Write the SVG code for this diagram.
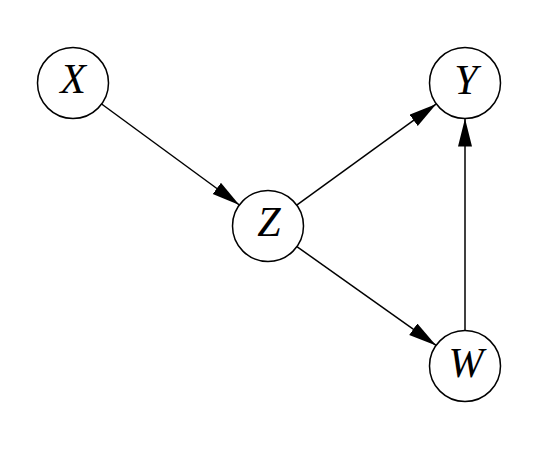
<svg xmlns="http://www.w3.org/2000/svg" width="548" height="458" viewBox="0 0 548 458">
<style>
.node circle{fill:#fff;stroke:#000;stroke-width:1.5}
.node text{font-family:"Liberation Serif","DejaVu Serif",serif;font-style:italic;font-size:42px;text-anchor:middle;fill:#000}
.edges line{stroke:#000;stroke-width:1.5;marker-end:url(#arr)}
</style>
<defs>
<marker id="arr" markerUnits="userSpaceOnUse" markerWidth="30" markerHeight="16" refX="28" refY="7" orient="auto">
<path d="M0,0 L28,7 L0,14 z" fill="#000"/>
</marker>
</defs>
<rect width="548" height="458" fill="#fff"/>
<g class="edges">
<line x1="101.6" y1="104.0" x2="239.4" y2="205.0"/>
<line x1="296.7" y1="205.1" x2="436.3" y2="103.9"/>
<line x1="296.9" y1="246.6" x2="436.1" y2="345.4"/>
<line x1="465" y1="330.5" x2="465" y2="118.5"/>
</g>
<g id="X" class="node"><circle cx="73" cy="83" r="35.5"/><text x="73" y="93">X</text></g>
<g id="Y" class="node"><circle cx="465" cy="83" r="35.5"/><text x="466" y="94">Y</text></g>
<g id="Z" class="node"><circle cx="268" cy="226" r="35.5"/><text x="269" y="236">Z</text></g>
<g id="W" class="node"><circle cx="465" cy="366" r="35.5"/><text x="466" y="377">W</text></g>
</svg>
